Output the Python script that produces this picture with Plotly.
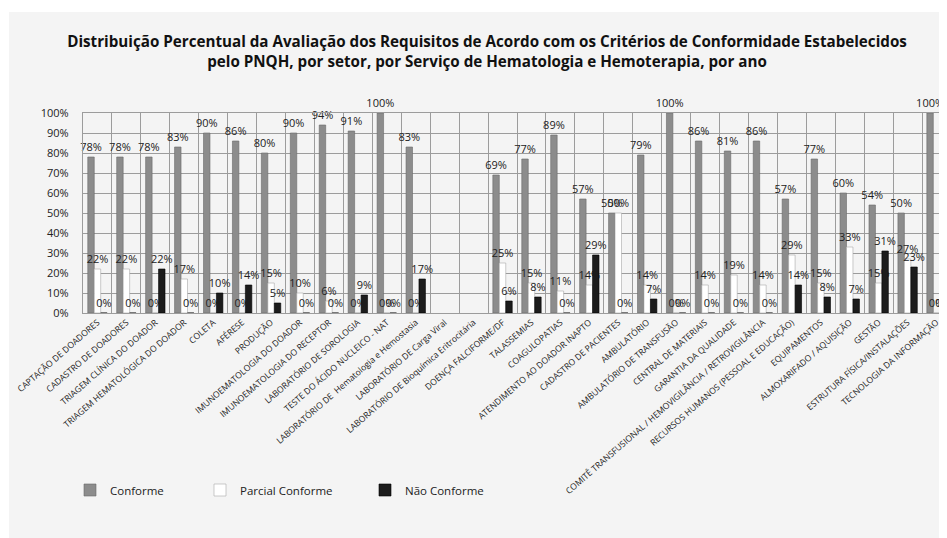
import plotly.graph_objects as go

categories = [
    "CAPTAÇÃO DE DOADORES",
    "CADASTRO DE DOADORES",
    "TRIAGEM CLÍNICA DO DOADOR",
    "TRIAGEM HEMATOLÓGICA DO DOADOR",
    "COLETA",
    "AFÉRESE",
    "PRODUÇÃO",
    "IMUNOEMATOLOGIA DO DOADOR",
    "IMUNOEMATOLOGIA DO RECEPTOR",
    "LABORATÓRIO DE SOROLOGIA",
    "TESTE DO ÁCIDO NUCLEICO - NAT",
    "LABORATÓRIO DE  Hematologia e Hemostasia",
    "LABORATÓRIO DE Carga Viral",
    "LABORATÓRIO DE Bioquímica Eritrocitária",
    "DOENÇA FALCIFORME/DF",
    "TALASSEMIAS",
    "COAGULOPATIAS",
    "ATENDIMENTO AO DOADOR INAPTO",
    "CADASTRO DE PACIENTES",
    "AMBULATÓRIO",
    "AMBULATÓRIO DE TRANSFUSÃO",
    "CENTRAL DE MATERIAIS",
    "GARANTIA DA QUALIDADE",
    "COMITÊ TRANSFUSIONAL / HEMOVIGILÂNCIA / RETROVIGILÂNCIA",
    "RECURSOS HUMANOS (PESSOAL E EDUCAÇÃO)",
    "EQUIPAMENTOS",
    "ALMOXARIFADO / AQUISIÇÃO",
    "GESTÃO",
    "ESTRUTURA FÍSICA/INSTALAÇÕES",
    "TECNOLOGIA DA INFORMAÇÃO",
]

conforme = [78, 78, 78, 83, 90, 86, 80, 90, 94, 91, 100, 83, None, None,
            69, 77, 89, 57, 50, 79, 100, 86, 81, 86, 57, 77, 60, 54, 50, 100]
parcial = [22, 22, 0, 17, 0, 0, 15, 10, 6, 0, 0, 0, None, None,
           25, 15, 11, 14, 50, 14, 0, 14, 19, 14, 29, 15, 33, 15, 27, 0]
nao_conforme = [0, 0, 22, 0, 10, 14, 5, 0, 0, 9, 0, 17, None, None,
                6, 8, 0, 29, 0, 7, 0, 0, 0, 0, 14, 8, 7, 31, 23, 0]

series_names = ["Conforme", "Parcial Conforme", "Não Conforme"]
y_ticks = list(range(0, 101, 10))
y_tick_labels = [f"{v}%" for v in y_ticks]

title_text = ("Distribuição Percentual da Avaliação dos Requisitos de Acordo com os Critérios de Conformidade Estabelecidos"
              "<br>pelo PNQH, por setor, por Serviço de Hematologia e Hemoterapia, por ano")

styles = [
    dict(color="#8c8c8c", line=dict(color="#6a6a6a", width=0.6)),
    dict(color="#ffffff", line=dict(color="#a8a8a8", width=0.6)),
    dict(color="#1c1c1c", line=dict(color="#000000", width=0.6)),
]

BG = "#f4f4f4"
W, H = 947, 530
L, R, T, B = 75, 4, 105, 225
pw, ph = W - L - R, H - T - B

def px_x(x):
    return (x - L) / pw

def px_y(y):
    return (H - B - y) / ph

legend_ids = ["legend", "legend2", "legend3"]
legend_text_x = [110, 240, 405]

fig = go.Figure()
for name, vals, st, lg in zip(series_names, [conforme, parcial, nao_conforme], styles, legend_ids):
    fig.add_trace(go.Bar(
        x=categories, y=vals, name=name,
        marker=st,
        text=[("" if v is None else f"{v}%") for v in vals],
        textposition="outside",
        textfont=dict(family="Open Sans", size=11, color="#222"),
        cliponaxis=False,
        constraintext="none",
        legend=lg,
        showlegend=True,
    ))

legend_layout = {}
for lg, tx in zip(legend_ids, legend_text_x):
    legend_layout[lg] = dict(
        orientation="h",
        xref="container", yref="container",
        x=(tx - 48) / W, xanchor="left",
        y=1 - 482 / H, yanchor="middle",
        font=dict(family="Open Sans", size=11.5, color="#222"),
        bgcolor="rgba(0,0,0,0)",
        visible=True,
    )

fig.update_layout(
    width=W, height=H,
    margin=dict(l=L, r=R, t=T, b=B, autoexpand=False),
    paper_bgcolor="#ffffff",
    plot_bgcolor=BG,
    barmode="group",
    bargap=0.33,
    bargroupgap=0.0,
    font=dict(family="Open Sans", color="#222"),
    title=dict(
        text=title_text,
        font=dict(family="Open Sans", size=15.2, color="#111", weight="bold"),
        x=px_x(479), xanchor="center", xref="paper",
        y=1 - 39 / H, yanchor="top", yref="container",
        automargin=False,
    ),
    shapes=[dict(
        type="rect", xref="paper", yref="paper", layer="below",
        x0=px_x(1), x1=px_x(W + 5), y0=px_y(H + 5), y1=px_y(4),
        fillcolor=BG, line=dict(width=0),
    )],
    **legend_layout,
)

fig.update_xaxes(
    tickson="boundaries",
    showgrid=True, gridcolor="#9c9c9c", gridwidth=1.4,
    showline=True, linecolor="#9c9c9c", linewidth=1.4, mirror=True,
    tickangle=-41,
    tickfont=dict(family="Open Sans", size=8.6, color="#222"),
    ticks="",
    automargin=False,
)
fig.update_yaxes(
    range=[0, 100],
    tickvals=y_ticks, ticktext=y_tick_labels,
    showgrid=True, gridcolor="#9c9c9c", gridwidth=1.4,
    showline=True, linecolor="#9c9c9c", linewidth=1.4, mirror=True,
    zeroline=False,
    tickfont=dict(family="Open Sans", size=11, color="#222"),
    ticks="", ticklabelstandoff=11,
    automargin=False,
)

fig.write_html("out.html")
